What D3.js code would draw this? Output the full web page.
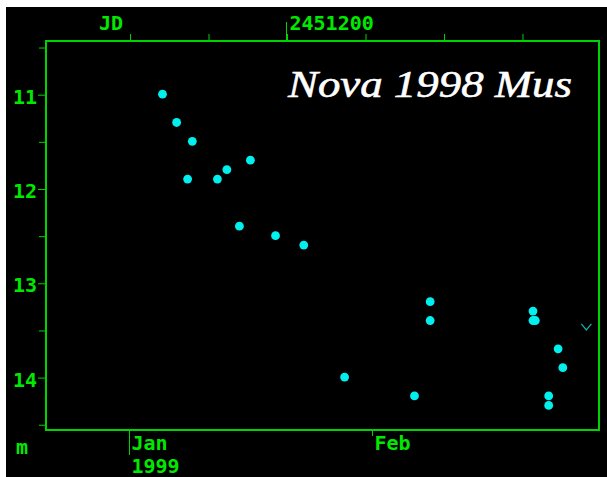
<!DOCTYPE html>
<html>
<head>
<meta charset="utf-8">
<script src="https://cdn.jsdelivr.net/npm/d3@7"></script>
<style>
  body { margin: 0; background: #fff; }
  svg { display: block; }
</style>
</head>
<body>
<div id="chart"></div>
<script>
// ---------------------------------------------------
// DATA — visual estimates of the AAVSO-style light curve
// ---------------------------------------------------
const obsJD = [2451184.2, 2451186.0, 2451188.0, 2451187.4, 2451191.2, 2451192.4,
               2451195.4, 2451194.0, 2451198.6, 2451202.2, 2451207.4, 2451216.3,
               2451218.3, 2451218.3, 2451231.4, 2451231.4, 2451231.7, 2451234.6,
               2451235.2, 2451233.4, 2451233.4];
const obsMag = [11.0, 11.3, 11.5, 11.9, 11.9, 11.8,
                11.7, 12.4, 12.5, 12.6, 14.0, 14.2,
                13.2, 13.4, 13.3, 13.4, 13.4, 13.7,
                13.9, 14.2, 14.3];

// "fainter than" estimates
const limitJD = [2451238.2];
const limitMag = [13.5];

// axis ticks
const magTicks = [11, 12, 13, 14];
const magMinorTicks = [10.5, 11.5, 12.5, 13.5, 14.5];
const jdTicks = [2451180, 2451190, 2451200, 2451210, 2451220, 2451230];
const jdLabelTick = 2451200;
const monthNames = ["Jan", "Feb"];
const monthJD = [2451180, 2451211];
const yearLabel = "1999";
const title = "Nova 1998 Mus";

// ---------------------------------------------------
// DIMENSIONS
// ---------------------------------------------------
const width = 607;
const height = 477;
const frame = { left: 46, top: 41, right: 599, bottom: 430 };
const green = "#00d400";
const textGreen = "#00ea00";
const monoFont = "'DejaVu Sans Mono', monospace";

const svg = d3.select("#chart")
  .append("svg")
  .attr("width", width)
  .attr("height", height);

// black panel
svg.append("rect")
  .attr("x", 6).attr("y", 7)
  .attr("width", width - 6).attr("height", height - 7)
  .attr("fill", "#000");

// ---------------------------------------------------
// SCALES
// ---------------------------------------------------
const x = d3.scaleLinear()
  .domain([2451169.36, 2451239.81])
  .range([frame.left, frame.right]);

const y = d3.scaleLinear()
  .domain([10.436, 14.561])
  .range([frame.top, frame.bottom]);

// ---------------------------------------------------
// LEFT AXIS (magnitude)
// ---------------------------------------------------
const yAxis = svg.append("g")
  .attr("transform", `translate(${frame.left},0.5)`)
  .call(d3.axisLeft(y).tickValues(magTicks).tickSize(8).tickPadding(1).tickFormat(d3.format("d")));

svg.append("g")
  .attr("transform", `translate(${frame.left},0.5)`)
  .call(d3.axisLeft(y).tickValues(magMinorTicks).tickSize(7).tickFormat(""));

svg.selectAll(".domain").remove();
svg.selectAll(".tick line").attr("stroke", green);
yAxis.selectAll("text")
  .attr("fill", textGreen)
  .attr("font-family", monoFont)
  .attr("font-weight", "bold")
  .attr("font-size", 20)
  .attr("dy", "0.42em");

svg.append("text")
  .attr("x", 16).attr("y", 454)
  .attr("fill", textGreen)
  .attr("font-family", monoFont)
  .attr("font-weight", "bold")
  .attr("font-size", 20)
  .text("m");

// ---------------------------------------------------
// TOP AXIS (Julian date)
// ---------------------------------------------------
const topAxis = svg.append("g")
  .attr("transform", `translate(0.5,${frame.top})`)
  .call(d3.axisTop(x).tickValues(jdTicks).tickSize(7).tickFormat(""));
topAxis.select(".domain").remove();
topAxis.selectAll(".tick line").attr("stroke", green);

// long tick for the labelled JD
svg.append("line")
  .attr("x1", Math.floor(x(jdLabelTick)) + 0.5)
  .attr("x2", Math.floor(x(jdLabelTick)) + 0.5)
  .attr("y1", frame.top).attr("y2", 22)
  .attr("stroke", green);

svg.append("text")
  .attr("x", x(jdLabelTick) + 3).attr("y", 30)
  .attr("fill", textGreen)
  .attr("font-family", monoFont)
  .attr("font-weight", "bold")
  .attr("font-size", 20)
  .text(jdLabelTick);

svg.append("text")
  .attr("x", 99).attr("y", 30)
  .attr("fill", textGreen)
  .attr("font-family", monoFont)
  .attr("font-weight", "bold")
  .attr("font-size", 20)
  .text("JD");

// ---------------------------------------------------
// BOTTOM AXIS (calendar months)
// ---------------------------------------------------
monthJD.forEach((jd, i) => {
  const px = Math.floor(x(jd)) + 0.5;
  svg.append("line")
    .attr("x1", px).attr("x2", px)
    .attr("y1", frame.bottom).attr("y2", i === 0 ? 455 : 436)
    .attr("stroke", green);

  svg.append("text")
    .attr("x", px + 2).attr("y", 450)
    .attr("fill", textGreen)
    .attr("font-family", monoFont)
    .attr("font-weight", "bold")
    .attr("font-size", 20)
    .text(monthNames[i]);
});

svg.append("text")
  .attr("x", Math.floor(x(monthJD[0])) + 2.5).attr("y", 473)
  .attr("fill", textGreen)
  .attr("font-family", monoFont)
  .attr("font-weight", "bold")
  .attr("font-size", 20)
  .text(yearLabel);

// ---------------------------------------------------
// FRAME
// ---------------------------------------------------
svg.append("rect")
  .attr("x", frame.left).attr("y", frame.top)
  .attr("width", frame.right - frame.left)
  .attr("height", frame.bottom - frame.top)
  .attr("fill", "none")
  .attr("stroke", green)
  .attr("stroke-width", 2);

// ---------------------------------------------------
// TITLE
// ---------------------------------------------------
svg.append("text")
  .attr("x", 288).attr("y", 97)
  .attr("fill", "#fff")
  .attr("stroke", "#fff")
  .attr("stroke-width", 0.6)
  .attr("font-family", "'Liberation Serif', 'Times New Roman', serif")
  .attr("font-style", "italic")
  .attr("font-size", 38)
  .attr("textLength", 284)
  .attr("lengthAdjust", "spacingAndGlyphs")
  .text(title);

// ---------------------------------------------------
// OBSERVATIONS
// ---------------------------------------------------
svg.selectAll(".obs")
  .data(obsJD.map((jd, i) => ({ jd, mag: obsMag[i] })))
  .join("circle")
  .attr("class", "obs")
  .attr("cx", d => x(d.jd))
  .attr("cy", d => y(d.mag))
  .attr("r", 4.4)
  .attr("fill", "#00f0f0");

// fainter-than marks (small "v")
svg.selectAll(".limit")
  .data(limitJD.map((jd, i) => ({ jd, mag: limitMag[i] })))
  .join("path")
  .attr("class", "limit")
  .attr("d", d => {
    const cx = x(d.jd), cy = y(d.mag);
    return `M${cx - 5},${cy - 6}L${cx},${cy}L${cx + 5},${cy - 6}`;
  })
  .attr("fill", "none")
  .attr("stroke", "#10b0b0")
  .attr("stroke-width", 1.2);
</script>
</body>
</html>
